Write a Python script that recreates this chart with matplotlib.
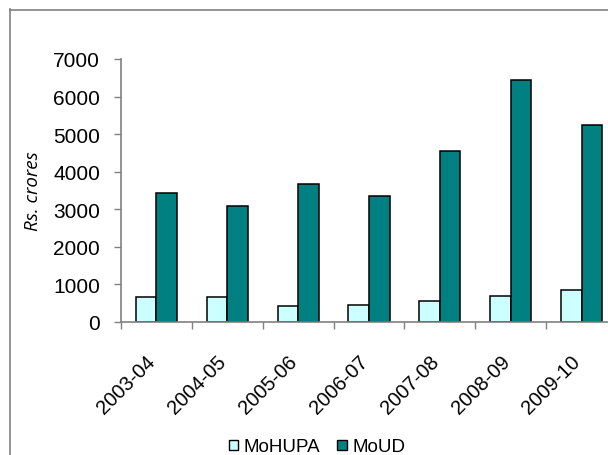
import numpy as np
import matplotlib
matplotlib.use("Agg")
import matplotlib.pyplot as plt
import matplotlib.transforms as mtransforms
from matplotlib.lines import Line2D
from matplotlib.patches import Patch

years = ["2003-04", "2004-05", "2005-06", "2006-07", "2007-08", "2008-09", "2009-10"]
mohupa = [670, 670, 420, 450, 550, 680, 860]
moud = [3430, 3085, 3660, 3360, 4540, 6430, 5240]
series_names = ["MoHUPA", "MoUD"]
y_ticks = [0, 1000, 2000, 3000, 4000, 5000, 6000, 7000]

W, H = 608, 456
fig = plt.figure(figsize=(W / 100, H / 100), dpi=100)
plt.rcParams["font.family"] = ["Liberation Sans", "DejaVu Sans"]

# outer chart-area frame (runs off the right and bottom edges)
frame_col = "#808080"
fig.add_artist(Line2D([9.5 / W, 9.5 / W], [0, 1 - 10 / H], color=frame_col, lw=1.2,
                      transform=fig.transFigure))
fig.add_artist(Line2D([9.5 / W, 1], [1 - 10.5 / H, 1 - 10.5 / H], color=frame_col, lw=1.2,
                      transform=fig.transFigure))

left, right = 121 / W, 617 / W
bottom, top = 1 - 323 / H, 1 - 60 / H
ax = fig.add_axes([left, bottom, right - left, top - bottom])

x = np.arange(len(years))
bw = 0.29
ax.bar(x - bw / 2, mohupa, width=bw, color="#CCFFFF", edgecolor="black", linewidth=1.1,
       label=series_names[0])
ax.bar(x + bw / 2, moud, width=bw, color="#008080", edgecolor="black", linewidth=1.1,
       label=series_names[1])

ax.set_xlim(-0.5, len(years) - 0.5)
ax.set_ylim(0, 7000)
ax.set_yticks(y_ticks)
ax.set_yticklabels([str(v) for v in y_ticks], fontsize=15)
ax.tick_params(axis="y", length=5, width=1, color=frame_col, pad=10)

ax.set_xticks(x)
ax.set_xticklabels(years, fontsize=14.5, rotation=45, ha="right", va="center",
                   rotation_mode="anchor")
ax.tick_params(axis="x", length=0, pad=26)
shift = mtransforms.ScaledTranslation(-4 / 100, 0, fig.dpi_scale_trans)
for lbl in ax.get_xticklabels():
    lbl.set_transform(lbl.get_transform() + shift)
ax.set_xticks(np.arange(-0.5, len(years), 1.0), minor=True)
ax.tick_params(axis="x", which="minor", length=5, width=1, color=frame_col)

for s in ["top", "right"]:
    ax.spines[s].set_visible(False)
for s in ["left", "bottom"]:
    ax.spines[s].set_color(frame_col)
    ax.spines[s].set_linewidth(1.2)

ax.set_ylabel("Rs. crores", fontsize=13.5, style="italic", family=["Open Sans", "DejaVu Sans"],
              labelpad=8)

handles = [Patch(facecolor="#CCFFFF", edgecolor="black", linewidth=1.0),
           Patch(facecolor="#008080", edgecolor="black", linewidth=1.0)]
fig.legend(handles, series_names, loc="center", bbox_to_anchor=(317 / W, 1 - 448 / H),
           ncol=2, frameon=False, fontsize=13.5, handlelength=0.5, handleheight=0.5,
           handletextpad=0.3, columnspacing=0.9, borderpad=0)

fig.savefig("out.png", dpi=100)
